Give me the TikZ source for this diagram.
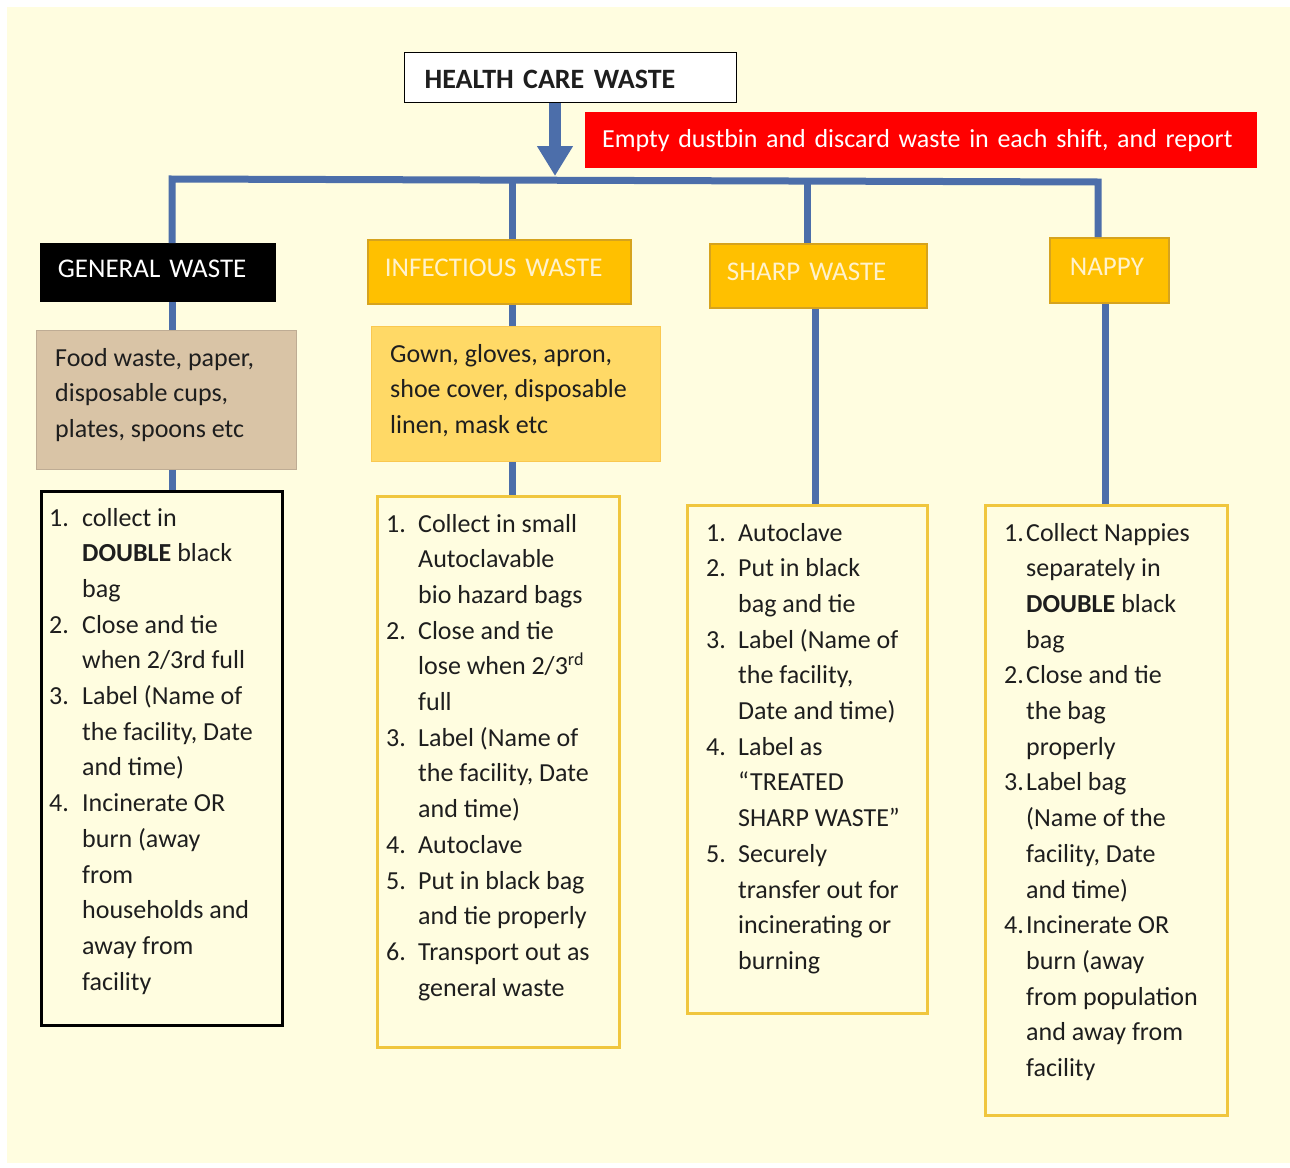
\documentclass[tikz,border=0pt]{standalone}
\usepackage{fontspec}
\setmainfont{Carlito}
\usetikzlibrary{arrows.meta}
\definecolor{cream}{RGB}{255,253,224}
\definecolor{flowblue}{RGB}{76,110,170}
\definecolor{hdryellow}{RGB}{255,192,0}
\definecolor{hdrborder}{RGB}{214,163,30}
\definecolor{hdrtext}{RGB}{255,242,204}
\definecolor{tanfill}{RGB}{217,196,166}
\definecolor{tanborder}{RGB}{190,172,148}
\definecolor{goldfill}{RGB}{255,217,102}
\definecolor{goldborder}{RGB}{250,200,80}
\definecolor{listgold}{RGB}{240,198,62}
\definecolor{txtdark}{RGB}{30,30,30}
\newcommand{\hup}[1]{\raisebox{4pt}[\height][\depth]{#1}}
\begin{document}
\begin{tikzpicture}[x=1pt,y=-1pt,
  hdr/.style={anchor=north west, draw=hdrborder, fill=hdryellow, line width=1.8pt,
    text=hdrtext, font=\fontsize{27}{32}\selectfont, inner xsep=17pt, align=left},
  descbox/.style={anchor=north west, line width=1.2pt},
  listbox/.style={anchor=north west, draw=listgold, line width=2.6pt},
  txt/.style={anchor=base west, inner sep=0pt, text=txtdark, font=\fontsize{26}{35.7}\selectfont},
  conn/.style={draw=flowblue, line width=7pt}
]
% background
\fill[white] (0,0) rectangle (1290,1167);
\fill[cream] (7,7) rectangle (1290,1163);

% top
\node[anchor=north west, draw=black, line width=1.2pt, fill=white, minimum width=332pt,
  minimum height=50pt, text width=292pt, inner xsep=20pt, align=left,
  font=\bfseries\fontsize{28}{30}\selectfont, text=txtdark] (hcw) at (404,52) {\raisebox{-2pt}[\height][\depth]{HEALTH CARE WASTE}};
\node[anchor=north west, fill=red, minimum width=672pt, minimum height=56pt, text width=638pt,
  inner xsep=17pt, align=left, text=white, font=\fontsize{26}{30}\selectfont] (shift) at (585,112)
  {Empty dustbin and discard waste in each shift, and report};

% headers
\node[hdr, fill=black, draw=black, text=white, minimum width=234pt, minimum height=57pt, text width=200pt] (gen) at (40,243) {\hup{GENERAL WASTE}};
\node[hdr, minimum width=263pt, minimum height=64pt, text width=229pt] (inf) at (367,239) {\hup{INFECTIOUS WASTE}};
\node[hdr, minimum width=217pt, minimum height=64pt, text width=183pt] (shp) at (709,243) {\hup{SHARP WASTE}};
\node[hdr, inner xsep=20pt, minimum width=119pt, minimum height=65pt, text width=79pt] (nap) at (1049,237) {\hup{NAPPY}};

% description boxes
\node[descbox, fill=tanfill, draw=tanborder, minimum width=260pt, minimum height=139pt] (gdesc) at (36,330) {};
\node[descbox, fill=goldfill, draw=goldborder, minimum width=289pt, minimum height=135pt] (idesc) at (371,326) {};

% list boxes
\node[listbox, draw=black, minimum width=241pt, minimum height=534pt] (glist) at (40,490) {};
\node[listbox, minimum width=242pt, minimum height=551pt] (ilist) at (376,495) {};
\node[listbox, minimum width=240pt, minimum height=508pt] (slist) at (686,504) {};
\node[listbox, minimum width=242pt, minimum height=610pt] (nlist) at (984,504) {};

% connectors
\coordinate (bL) at (172,179);
\coordinate (bI) at (512,180);
\coordinate (bS) at (807,181);
\coordinate (bR) at (1098,182);
\coordinate (cS) at (815,0);
\coordinate (cN) at (1105,0);
\coordinate (aX) at (555,0);
\coordinate (aE) at (555,176);
\draw[conn] (gen.north -| bL) -- (bL) -- (bR) -- (nap.north -| bR);
\draw[conn] (bI) -- (inf.north -| bI);
\draw[conn] (bS) -- (shp.north -| bS);
\draw[conn] (gen.south -| bL) -- (gdesc.north -| bL);
\draw[conn] (gdesc.south -| bL) -- (glist.north -| bL);
\draw[conn] (inf.south -| bI) -- (idesc.north -| bI);
\draw[conn] (idesc.south -| bI) -- (ilist.north -| bI);
\draw[conn] (shp.south -| cS) -- (slist.north -| cS);
\draw[conn] (nap.south -| cN) -- (nlist.north -| cN);
\draw[conn, line width=12pt, -{Triangle[width=34pt,length=30pt]}] (hcw.south -| aX) -- (aE);

% description texts
\node[txt] (gdesct) at (55,366) {\begin{tabular}[t]{@{}l@{}}Food waste, paper,\\disposable cups,\\plates, spoons etc\end{tabular}};
\node[txt] (idesct) at (390,362) {\begin{tabular}[t]{@{}l@{}}Gown, gloves, apron,\\shoe cover, disposable\\linen, mask etc\end{tabular}};

% list texts
\node[txt] (glistt) at (49,526) {\begin{tabular}[t]{@{}p{33pt}@{}l@{}}
1. & collect in\\ & \textbf{DOUBLE} black\\ & bag\\
2. & Close and tie\\ & when 2/3rd full\\
3. & Label (Name of\\ & the facility, Date\\ & and time)\\
4. & Incinerate OR\\ & burn (away\\ & from\\ & households and\\ & away from\\ & facility
\end{tabular}};
\node[txt] (ilistt) at (386,532) {\begin{tabular}[t]{@{}p{32pt}@{}l@{}}
1. & Collect in small\\ & Autoclavable\\ & bio hazard bags\\
2. & Close and tie\\ & lose when 2/3\textsuperscript{rd}\\ & full\\
3. & Label (Name of\\ & the facility, Date\\ & and time)\\
4. & Autoclave\\
5. & Put in black bag\\ & and tie properly\\
6. & Transport out as\\ & general waste
\end{tabular}};
\node[txt] (slistt) at (706,541) {\begin{tabular}[t]{@{}p{32pt}@{}l@{}}
1. & Autoclave\\
2. & Put in black\\ & bag and tie\\
3. & Label (Name of\\ & the facility,\\ & Date and time)\\
4. & Label as\\ & “TREATED\\ & SHARP WASTE”\\
5. & Securely\\ & transfer out for\\ & incinerating or\\ & burning
\end{tabular}};
\node[txt] (nlistt) at (1004,541) {\begin{tabular}[t]{@{}p{22pt}@{}l@{}}
1. & Collect Nappies\\ & separately in\\ & \textbf{DOUBLE} black\\ & bag\\
2. & Close and tie\\ & the bag\\ & properly\\
3. & Label bag\\ & (Name of the\\ & facility, Date\\ & and time)\\
4. & Incinerate OR\\ & burn (away\\ & from population\\ & and away from\\ & facility
\end{tabular}};
\end{tikzpicture}
\end{document}
